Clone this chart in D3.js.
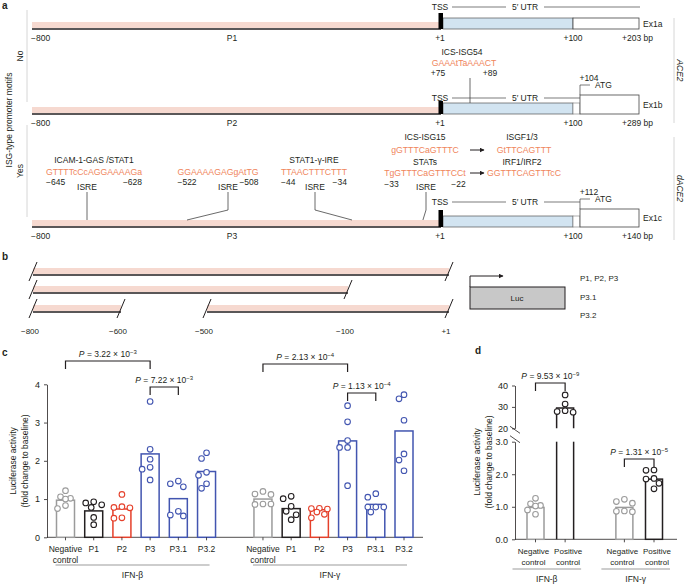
<!DOCTYPE html>
<html>
<head>
<meta charset="utf-8">
<script src="https://cdn.jsdelivr.net/npm/d3@7"></script>
<style>
body { margin: 0; background: #fff; }
text { font-family: "Liberation Sans", Arial, sans-serif; }
</style>
</head>
<body>
<div id="fig"></div>
<script>
// ---- panel a: gene structure
var exonNames = ["Ex1a", "Ex1b", "Ex1c"];
var promoterNames = ["P1", "P2", "P3"];
var exonEndLabels = ["+203 bp", "+289 bp", "+140 bp"];
var atgLabels = ["", "+104", "+112"];
var motifAnswers = ["No", "Yes"];
var geneNames = ["ACE2", "dACE2"];
var isg54 = ["ICS-ISG54", "GAAAtTaAAACT", "+75", "+89"];
var motifNames = ["ICAM-1-GAS /STAT1", "", "STAT1-\u03b3-IRE", "ICS-ISG15"];
var motifSeqs = ["GTTTTcCcAGGAAAAGa", "GGAAAAGAGgAtTG", "TTAACTTTCTTT", "gGTTTCaGTTTC"];
var motifStarts = [-645, -522, -44, -33];
var motifEnds = [-628, -508, -34, -22];
var statMotif = ["STATs", "TgGTTTCaGTTTCCt"];
var isgfMotif = ["ISGF1/3", "GtTTCAGTTT"];
var irfMotif = ["IRF1/IRF2", "GGTTTCAGTTTcC"];

// ---- panel b: reporter constructs
var bRowLabels = ["P1, P2, P3", "P3.1", "P3.2"];
var bSegments = [[[-800, 1]], [[-800, -100]], [[-800, -600], [-500, 1]]];
var bTicks = [-800, -600, -500, -100, 1];

// ---- panel c: luciferase, promoter constructs
var constructs = ["Negative control", "P1", "P2", "P3", "P3.1", "P3.2"];
var treatments = ["IFN-\u03b2", "IFN-\u03b3"];
var betaBars = [0.97, 0.69, 0.74, 2.18, 1.01, 1.72];
var betaPoints = [
  [1.22, 1.06, 1.02, 1.00, 0.83, 0.75],
  [0.93, 0.90, 0.85, 0.78, 0.52, 0.33],
  [1.12, 0.80, 0.78, 0.77, 0.51, 0.50],
  [3.55, 2.30, 2.04, 1.83, 1.78, 1.50],
  [1.47, 1.40, 1.32, 0.68, 0.58, 0.56],
  [2.21, 2.06, 1.70, 1.62, 1.40, 1.28]
];
var gammaBars = [1.00, 0.75, 0.72, 2.52, 0.86, 2.78];
var gammaPoints = [
  [1.20, 1.13, 1.12, 0.87, 0.86, 0.87],
  [1.07, 1.01, 0.81, 0.68, 0.59, 0.46],
  [0.76, 0.75, 0.74, 0.66, 0.60, 0.51],
  [3.44, 3.02, 2.53, 2.35, 2.35, 1.35],
  [1.14, 1.05, 0.79, 0.79, 0.79, 0.66],
  [3.73, 3.62, 3.06, 2.18, 2.02, 1.74]
];
var cPvals = [["3.22", "\u22123"], ["7.22", "\u22123"], ["2.13", "\u22124"], ["1.13", "\u22124"]];

// ---- panel d: controls
var controls = ["Negative control", "Positive control"];
var dBars = [[0.98, 29.5], [0.98, 1.85]];
var dPoints = [
  [[1.26, 1.09, 1.04, 1.02, 0.90, 0.77], [35.6, 31.3, 28.2, 27.8, 27.5]],
  [[1.23, 1.16, 1.11, 0.87, 0.86, 0.85], [2.13, 2.12, 1.87, 1.85, 1.72, 1.55]]
];
var dPvals = [["9.53", "\u22129"], ["1.31", "\u22125"]];

var ink = "#231f20", orange = "#f0855c", pink = "#f6d9d0", utrBlue = "#d2e4f1";
var grey = "#9b9b9b", red = "#e5402b", blue = "#4255b0", rule = "#bdbdbd";
var constructColors = [grey, ink, red, blue, blue, blue];

var svg = d3.select("#fig").append("svg").attr("width", 685).attr("height", 585);
svg.append("rect").attr("width", 685).attr("height", 585).attr("fill", "#fff");

function label(g, x, y, s, o) {
  o = o || {};
  var t = g.append("text").attr("x", x).attr("y", y)
    .attr("font-size", o.size || 8.5).attr("text-anchor", o.anchor || "middle")
    .attr("dominant-baseline", "central").attr("fill", o.fill || ink).text(s);
  if (o.italic) t.attr("font-style", "italic");
  if (o.bold) t.attr("font-weight", "bold");
  if (o.rotate) t.attr("transform", "rotate(" + o.rotate + "," + x + "," + y + ")");
  return t;
}
function line(g, x1, y1, x2, y2, col, w) {
  return g.append("line").attr("x1", x1).attr("y1", y1).attr("x2", x2).attr("y2", y2)
    .attr("stroke", col || ink).attr("stroke-width", w || 0.8);
}
function pText(g, x, y, p) {
  var t = g.append("text").attr("x", x).attr("y", y).attr("font-size", 8.5)
    .attr("text-anchor", "middle").attr("fill", ink);
  t.append("tspan").attr("font-style", "italic").text("P");
  t.append("tspan").text(" = " + p[0] + " \u00d7 10");
  t.append("tspan").attr("dy", -3.5).attr("font-size", 6).text(p[1]);
}
function bracket(g, x1, x2, top, p) {
  g.append("path").attr("d", "M" + x1 + "," + (top + 8) + "V" + top + "H" + x2 + "V" + (top + 8))
    .attr("fill", "none").attr("stroke", ink).attr("stroke-width", 1.2);
  pText(g, (x1 + x2) / 2, top - 4, p);
}
// greedy dodge so circles do not sit on top of each other
function dodge(vals, yOf, cx, r) {
  var offs = [0, -5, 5, -8, 8, -2.5, 2.5];
  var placed = [];
  return vals.map(function(v) {
    var y = yOf(v), best = 0, bestOv = Infinity;
    offs.forEach(function(o) {
      if (bestOv === 0) return;
      var ov = 0;
      placed.forEach(function(p) {
        var d = Math.hypot(p.x - (cx + o), p.y - y);
        if (d < 2 * r + 0.8) ov += 2 * r + 0.8 - d;
      });
      if (ov < bestOv) { bestOv = ov; best = o; }
    });
    placed.push({x: cx + best, y: y});
    return {x: cx + best, y: y};
  });
}
function dots(g, pts, col) {
  g.selectAll(null).data(pts).enter().append("circle")
    .attr("cx", function(d) { return d.x; }).attr("cy", function(d) { return d.y; })
    .attr("r", 2.8).attr("fill", "#fff").attr("stroke", col).attr("stroke-width", 1.1);
}

// ================= panel a =================
var ga = svg.append("g");
label(ga, 2, 5, "a", {anchor: "start", bold: true, size: 10});
var promX = d3.scaleLinear().domain([-800, -636, -515, -39, -27, 1]).range([32, 87, 187, 352, 426, 440]);
var utrX = d3.scaleLinear().domain([1, 100]).range([443, 573]);
var exonEnd = 639, atgStart = 580;
var rowY = [29, 114, 227], tssH = [16, 13, 17], utrDy = [22, 16, 25], atgH = [11, 19, 18];

rowY.forEach(function(y, r) {
  ga.append("rect").attr("x", promX(-800)).attr("y", y - 7).attr("width", promX(1) - promX(-800)).attr("height", 6).attr("fill", pink);
  line(ga, promX(-800), y, promX(1) + 1, y, ink, 1.6);
  ga.append("rect").attr("x", utrX(1)).attr("y", y - 11).attr("width", utrX(100) - utrX(1)).attr("height", 11)
    .attr("fill", utrBlue).attr("stroke", "#555").attr("stroke-width", 0.7);
  if (r === 0) {
    ga.append("rect").attr("x", utrX(100)).attr("y", y - 11).attr("width", exonEnd - utrX(100)).attr("height", 11)
      .attr("fill", "#fff").attr("stroke", "#444").attr("stroke-width", 0.8);
  } else {
    ga.append("rect").attr("x", utrX(100)).attr("y", y - 11).attr("width", atgStart - utrX(100)).attr("height", 11)
      .attr("fill", "#fff").attr("stroke", "#777").attr("stroke-width", 0.6);
    ga.append("rect").attr("x", atgStart).attr("y", y - atgH[r]).attr("width", exonEnd - atgStart).attr("height", atgH[r])
      .attr("fill", "#fff").attr("stroke", "#444").attr("stroke-width", 0.8);
  }
  ga.append("rect").attr("x", promX(1) - 1.5).attr("y", y - tssH[r]).attr("width", 4.5).attr("height", tssH[r]).attr("fill", "#000");
  // TSS / 5' UTR line
  var ly = y - utrDy[r];
  label(ga, promX(1), ly, "TSS");
  line(ga, 452, ly, 506, ly, "#444", 0.7);
  label(ga, 525, ly, "5\u2032 UTR");
  if (r === 0) {
    line(ga, 544, ly, exonEnd + 1, ly, "#444", 0.7);
  } else {
    line(ga, 544, ly, atgStart, ly, "#444", 0.7);
    var top = y - atgH[r] - 10;
    ga.append("path").attr("d", "M" + atgStart + "," + (y - atgH[r]) + "V" + top + "H" + (atgStart + 10))
      .attr("fill", "none").attr("stroke", "#444").attr("stroke-width", 0.7);
    label(ga, atgStart + 15, top, "ATG", {anchor: "start"});
    label(ga, atgStart + 9, y - atgH[r] - 17, atgLabels[r]);
  }
  label(ga, exonEnd + 4, y - atgH[r] / 2, exonNames[r], {anchor: "start"});
  var by = y + 9;
  label(ga, promX(-800) - 1, by, "\u2212800", {anchor: "start"});
  label(ga, 232, by, promoterNames[r]);
  label(ga, promX(1), by, "+1");
  label(ga, utrX(100), by, "+100");
  label(ga, exonEnd - 17, by, exonEndLabels[r], {anchor: "start"});
});

// ICS-ISG54 in the Ex1b 5' UTR
var x54 = utrX(1) + 27;
label(ga, x54 - 8, 52, isg54[0]);
label(ga, x54 - 6, 63, isg54[1], {fill: orange, size: 8.7});
label(ga, x54 - 32, 73, isg54[2]);
label(ga, x54 + 20, 73, isg54[3]);
line(ga, x54, 78, x54, rowY[1] - 11, "#444", 0.8);

// P3 promoter motifs
var textX = [94, 218, 314, 425], isreX = [87, 228, 315, 426];
motifSeqs.forEach(function(s, i) {
  var mid = (motifStarts[i] + motifEnds[i]) / 2;
  if (motifNames[i]) label(ga, textX[i], i === 3 ? 137 : 160, motifNames[i]);
  var seqY = i === 3 ? 150 : 172;
  var st = label(ga, textX[i], seqY, s, {fill: orange, size: 8.7});
  var w = st.node().getComputedTextLength();
  if (i === 3) {
    label(ga, textX[i], 162, statMotif[0]);
    var s2 = label(ga, textX[i], 173, statMotif[1], {fill: orange, size: 8.7});
    w = s2.node().getComputedTextLength();
  }
  var ny = i === 3 ? 184 : 182;
  label(ga, textX[i] - w / 2, ny, "\u2212" + Math.abs(motifStarts[i]), {anchor: "start"});
  label(ga, textX[i] + w / 2, ny, "\u2212" + Math.abs(motifEnds[i]), {anchor: "end"});
  label(ga, isreX[i], 187, "ISRE");
  var end = promX(mid), bandTop = rowY[2] - 7;
  var d = Math.abs(end - isreX[i]) < 2 ? "M" + isreX[i] + ",192V" + bandTop
    : "M" + isreX[i] + ",192V" + (bandTop - 10) + "L" + end + "," + bandTop;
  ga.append("path").attr("d", d).attr("fill", "none").attr("stroke", "#444").attr("stroke-width", 0.8);
});
ga.append("defs").append("marker").attr("id", "ah").attr("viewBox", "0 0 10 10").attr("refX", 9).attr("refY", 5)
  .attr("markerWidth", 5).attr("markerHeight", 5).attr("orient", "auto")
  .append("path").attr("d", "M0,0L10,5L0,10z").attr("fill", ink);
[[150, isgfMotif], [173, irfMotif]].forEach(function(m, i) {
  line(ga, 470, m[0], 484, m[0], ink, 1).attr("marker-end", "url(#ah)");
  label(ga, 522, m[0] - 13 + (i ? 2 : 0), m[1][0]);
  label(ga, 524, m[0], m[1][1], {fill: orange, size: 8.7});
});

// side labels
[[10, 102], [125, 217]].forEach(function(s, i) {
  line(ga, 27, s[0], 27, s[1], "#ccc", 0.8);
  label(ga, 20, (s[0] + s[1]) / 2, motifAnswers[i], {rotate: -90});
});
label(ga, 9, 120, "ISG-type promoter motifs", {rotate: -90});
[[18, 123], [137, 240]].forEach(function(s, i) {
  line(ga, 674, s[0], 674, s[1], "#ccc", 0.8);
  label(ga, 680, (s[0] + s[1]) / 2, geneNames[i], {rotate: 90, italic: true});
});

// ================= panel b =================
var gb = svg.append("g");
label(gb, 2, 256, "b", {anchor: "start", bold: true, size: 10});
var bX = d3.scaleLinear().domain(bTicks).range([33, 121, 207, 348, 449]);
var bRowY = [275, 293, 312], bLabelY = [278, 297, 315];
bSegments.forEach(function(segs, r) {
  var y = bRowY[r];
  segs.forEach(function(sg) {
    var x1 = bX(sg[0]), x2 = bX(sg[1]);
    gb.append("rect").attr("x", x1).attr("y", y - 7).attr("width", x2 - x1).attr("height", 6).attr("fill", pink);
    line(gb, x1, y, x2, y, ink, 1.3);
    [x1, x2].forEach(function(x) { line(gb, x - 4, y + 6, x + 4, y - 13, ink, 1); });
  });
  label(gb, 580, bLabelY[r], bRowLabels[r], {anchor: "start", size: 8});
});
bTicks.forEach(function(t) {
  label(gb, bX(t) - 3, 331, t > 0 ? "+" + t : "\u2212" + Math.abs(t), {size: 8});
});
gb.append("rect").attr("x", 470).attr("y", 287).attr("width", 95).attr("height", 22)
  .attr("fill", "#c8c8c8").attr("stroke", ink).attr("stroke-width", 1);
label(gb, 517, 298, "Luc", {size: 8});
gb.append("path").attr("d", "M470,287V276H503").attr("fill", "none").attr("stroke", ink).attr("stroke-width", 1)
  .attr("marker-end", "url(#ah)");

// ================= panel c =================
var gc = svg.append("g");
label(gc, 2, 352, "c", {anchor: "start", bold: true, size: 10});
var cY = d3.scaleLinear().domain([0, 4]).range([537.3, 384.3]);
var cKeys = [];
treatments.forEach(function(t, ti) {
  constructs.forEach(function(c) { cKeys.push(ti + "|" + c); });
  if (ti === 0) cKeys.push("gap");
});
var cX = d3.scalePoint().domain(cKeys).range([65.5, 404]);
var cAxis = gc.append("g").attr("transform", "translate(47,0)")
  .call(d3.axisLeft(cY).ticks(4).tickSize(3).tickSizeOuter(0).tickPadding(4));
cAxis.selectAll("text").attr("font-size", 9).attr("fill", ink);
cAxis.selectAll("line,path").attr("stroke", ink).attr("stroke-width", 0.8);
line(gc, 47, cY(0), 423, cY(0), ink, 0.8);
label(gc, 13, 461, "Luciferase activity", {rotate: -90});
label(gc, 25, 461, "(fold change to baseline)", {rotate: -90});

[[betaBars, betaPoints], [gammaBars, gammaPoints]].forEach(function(set, ti) {
  constructs.forEach(function(c, ci) {
    var cx = cX(ti + "|" + c), col = constructColors[ci];
    gc.append("rect").attr("x", cx - 9).attr("y", cY(set[0][ci])).attr("width", 18)
      .attr("height", cY(0) - cY(set[0][ci])).attr("fill", "#fff").attr("stroke", col).attr("stroke-width", 1.5);
    dots(gc, dodge(set[1][ci], cY, cx, 2.8), col);
    line(gc, cx, cY(0), cx, cY(0) + 3, ink, 0.8);
    var parts = c.split(" ");
    parts.forEach(function(p, k) { label(gc, cx, 549 + k * 11, p); });
  });
  var x1 = cX(ti + "|" + constructs[0]) - 10, x2 = cX(ti + "|" + constructs[5]) + 3;
  line(gc, x1, 565, x2, 565, rule, 1.5);
  label(gc, (x1 + x2) / 2, 575, treatments[ti]);
});
bracket(gc, cX("0|Negative control"), cX("0|P3"), 361, cPvals[0]);
bracket(gc, cX("0|P3"), cX("0|P3.1"), 387, cPvals[1]);
bracket(gc, cX("1|Negative control"), cX("1|P3"), 364, cPvals[2]);
bracket(gc, cX("1|P3"), cX("1|P3.1"), 393, cPvals[3]);

// ================= panel d =================
var gd = svg.append("g");
label(gd, 475, 350, "d", {anchor: "start", bold: true, size: 10});
var yLow = d3.scaleLinear().domain([0, 3]).range([539.3, 441.7]);
var yHigh = d3.scaleLinear().domain([20, 40]).range([428.3, 385.5]);
var dX = d3.scalePoint().domain(["0|0", "0|1", "gap", "1|0", "1|1"]).range([535.5, 654]);
[[yLow, [0, 1, 2, 3]], [yHigh, [20, 30, 40]]].forEach(function(a) {
  var ax = gd.append("g").attr("transform", "translate(515,0)")
    .call(d3.axisLeft(a[0]).tickValues(a[1]).tickSize(3).tickSizeOuter(0).tickPadding(4));
  ax.selectAll("text").attr("font-size", 9).attr("fill", ink);
  ax.selectAll("line,path").attr("stroke", ink).attr("stroke-width", 0.8);
});
line(gd, 510, yHigh(20) - 2, 520, yHigh(20) + 5, ink, 0.8);
line(gd, 510, yLow(3) - 6, 520, yLow(3) + 1, ink, 0.8);
line(gd, 515, yLow(0), 677, yLow(0), ink, 0.8);
label(gd, 477, 462, "Luciferase activity", {rotate: -90});
label(gd, 489, 462, "(fold change to baseline)", {rotate: -90});

var dCols = [grey, ink];
treatments.forEach(function(t, ti) {
  controls.forEach(function(c, ci) {
    var cx = dX(ti + "|" + ci), v = dBars[ti][ci], col = dCols[ci];
    if (v > 3) {
      gd.append("path").attr("d", "M" + (cx - 8.5) + "," + yHigh(20) + "V" + yHigh(v) + "H" + (cx + 8.5) + "V" + yHigh(20))
        .attr("fill", "#fff").attr("stroke", col).attr("stroke-width", 1.5);
      line(gd, cx - 8.5, yLow(3), cx - 8.5, yLow(0), col, 1.5);
      line(gd, cx + 8.5, yLow(3), cx + 8.5, yLow(0), col, 1.5);
    } else {
      gd.append("rect").attr("x", cx - 8.5).attr("y", yLow(v)).attr("width", 17).attr("height", yLow(0) - yLow(v))
        .attr("fill", "#fff").attr("stroke", col).attr("stroke-width", 1.5);
    }
    dots(gd, dodge(dPoints[ti][ci], v > 3 ? yHigh : yLow, cx, 2.8), col);
    line(gd, cx, yLow(0), cx, yLow(0) + 3, ink, 0.8);
    var lx = cx + (ci ? 3 : -2);
    c.split(" ").forEach(function(p, k) { label(gd, lx, 551 + k * 11, p, {size: 8}); });
  });
  var x1 = dX(ti + "|0") - 23, x2 = dX(ti + "|1") + 16;
  line(gd, x1, 569, x2, 569, rule, 1.5);
  label(gd, (x1 + x2) / 2, 579, t);
});
bracket(gd, dX("0|0"), dX("0|1"), 383, dPvals[0]);
bracket(gd, dX("1|0"), dX("1|1"), 459, dPvals[1]);
</script>
</body>
</html>
